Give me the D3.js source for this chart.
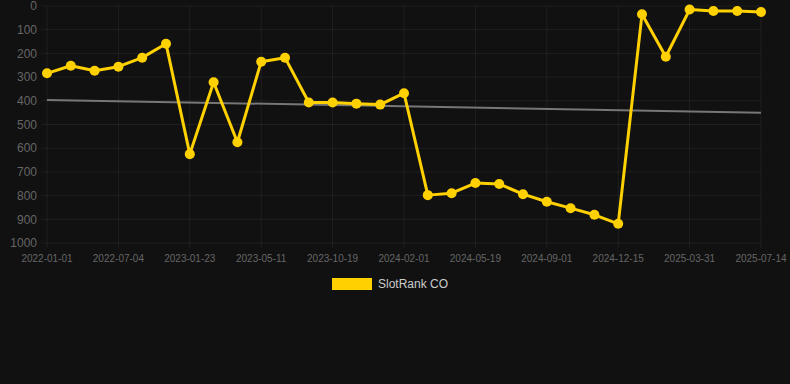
<!DOCTYPE html>
<html>
<head>
<meta charset="utf-8">
<script src="https://cdn.jsdelivr.net/npm/d3@7"></script>
<style>
  html, body { margin: 0; padding: 0; background: #111111; }
  #chart { width: 790px; height: 384px; }
  text { font-family: "Liberation Sans", Arial, sans-serif; }
</style>
</head>
<body>
<div id="chart"></div>
<script>
// one point per sample, labels shown on every third one
var tickLabels = ["2022-01-01", "2022-07-04", "2023-01-23", "2023-05-11", "2023-10-19",
  "2024-02-01", "2024-05-19", "2024-09-01", "2024-12-15", "2025-03-31", "2025-07-14"]
var rankValues = [284, 252, 273, 256, 218, 159, 625, 322, 575, 235, 218,
  407, 407, 412, 416, 368, 798, 790, 747, 751, 794,
  826, 853, 881, 919, 35, 214, 15, 21, 21, 25]
var yTicks = [0, 100, 200, 300, 400, 500, 600, 700, 800, 900, 1000]
var seriesName = "SlotRank CO"

var width = 790, height = 384
var margin = { top: 6, right: 29, bottom: 141, left: 47 }
var lineColor = "#ffd100"

var svg = d3.select("#chart").append("svg")
  .attr("width", width)
  .attr("height", height)

var xScale = d3.scalePoint()
  .domain(d3.range(rankValues.length))
  .range([margin.left, width - margin.right])

var yScale = d3.scaleLinear()
  .domain([0, 1000])
  .range([margin.top, height - margin.bottom])

// grid
var labelIdx = tickLabels.map(function(d, i) { return i * 3 })
svg.append("g").selectAll("line.vg")
  .data(labelIdx)
  .enter().append("line")
  .attr("x1", function(d) { return xScale(d) })
  .attr("x2", function(d) { return xScale(d) })
  .attr("y1", margin.top)
  .attr("y2", height - margin.bottom + 5)
  .style("stroke", "rgba(255,255,255,0.06)")
  .style("stroke-width", 1)

svg.append("g").selectAll("line.hg")
  .data(yTicks)
  .enter().append("line")
  .attr("x1", margin.left - 5)
  .attr("x2", width - margin.right)
  .attr("y1", function(d) { return yScale(d) })
  .attr("y2", function(d) { return yScale(d) })
  .style("stroke", "rgba(255,255,255,0.06)")
  .style("stroke-width", 1)

// y axis labels
svg.append("g").selectAll("text")
  .data(yTicks)
  .enter().append("text")
  .attr("x", margin.left - 10)
  .attr("y", function(d) { return yScale(d) })
  .attr("dy", "0.35em")
  .attr("text-anchor", "end")
  .style("font-size", "12px")
  .style("fill", "#666666")
  .text(function(d) { return d })

// x axis labels
svg.append("g").selectAll("text")
  .data(tickLabels)
  .enter().append("text")
  .attr("x", function(d, i) { return xScale(i * 3) })
  .attr("y", height - margin.bottom + 19)
  .attr("text-anchor", "middle")
  .style("font-size", "10px")
  .style("fill", "#666666")
  .text(function(d) { return d })

// least squares trend line
var n = rankValues.length
var meanX = d3.mean(d3.range(n))
var meanY = d3.mean(rankValues)
var sxy = d3.sum(rankValues, function(v, i) { return (i - meanX) * (v - meanY) })
var sxx = d3.sum(d3.range(n), function(i) { return (i - meanX) * (i - meanX) })
var slope = sxy / sxx
var intercept = meanY - slope * meanX
svg.append("line")
  .attr("x1", xScale(0))
  .attr("y1", yScale(intercept))
  .attr("x2", xScale(n - 1))
  .attr("y2", yScale(intercept + slope * (n - 1)))
  .style("stroke", "#777777")
  .style("stroke-width", 2)

// series
var line = d3.line()
  .x(function(d, i) { return xScale(i) })
  .y(function(d) { return yScale(d) })

svg.append("path")
  .datum(rankValues)
  .attr("d", line)
  .style("fill", "none")
  .style("stroke", lineColor)
  .style("stroke-width", 3)
  .style("stroke-linejoin", "round")

svg.append("g").selectAll("circle")
  .data(rankValues)
  .enter().append("circle")
  .attr("cx", function(d, i) { return xScale(i) })
  .attr("cy", function(d) { return yScale(d) })
  .attr("r", 5)
  .style("fill", lineColor)

// legend
var legend = svg.append("g")
legend.append("rect")
  .attr("x", 332)
  .attr("y", 278)
  .attr("width", 40)
  .attr("height", 12)
  .style("fill", lineColor)
legend.append("text")
  .attr("x", 378)
  .attr("y", 284)
  .attr("dy", "0.35em")
  .style("font-size", "12px")
  .style("fill", "#cccccc")
  .text(seriesName)
</script>
</body>
</html>
